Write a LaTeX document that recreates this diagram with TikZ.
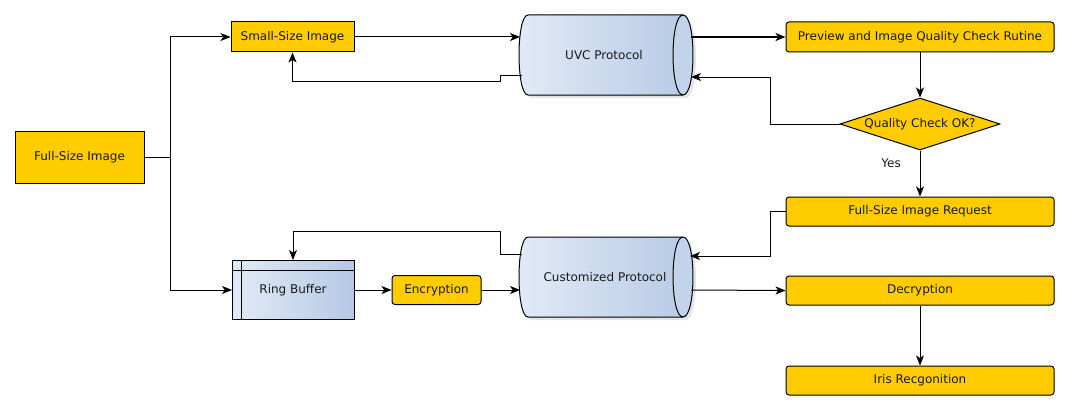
\documentclass[tikz,border=0pt]{standalone}
\usepackage{fontspec}
\setmainfont{DejaVu Sans}
\usetikzlibrary{arrows.meta,shapes.geometric,calc}
\definecolor{boxfill}{HTML}{FFCC00}
\definecolor{cylL}{HTML}{E2EAF6}
\definecolor{cylR}{HTML}{B5C9E5}
\definecolor{cylEnd}{HTML}{C2D3EB}
\definecolor{txt}{HTML}{1A1A1A}
\tikzset{
  px/.style={line width=0.75pt},
  sharpbox/.style={draw=black, px, fill=boxfill, text=txt, inner sep=0pt, font=\fontsize{9}{11}\selectfont},
  roundbox/.style={sharpbox, rounded corners=2.25pt},
  lbl/.style={text=txt, inner sep=0pt, font=\fontsize{9}{11}\selectfont},
  conn/.style={draw=black, px, -{Stealth[length=7.5pt,width=6pt,inset=2pt]}},
  plain/.style={draw=black, px},
}
\begin{document}
\begin{tikzpicture}[x=0.75pt,y=-0.75pt]
\useasboundingbox (0,0) rectangle (1069,410);

% ---- cylinders ----
\foreach \t/\b in {15/95, 237/317}{
  \fill[black, opacity=0.10] (531,\t+3) -- (686,\t+3) .. controls (699.3,\t+3) and (699.3,\b+3) .. (686,\b+3) -- (531,\b+3) .. controls (519,\b+3) and (519,\t+3) .. (531,\t+3) -- cycle;
  \shade[left color=cylL, right color=cylR] (528,\t) -- (683,\t) .. controls (696.3,\t) and (696.3,\b) .. (683,\b) -- (528,\b) .. controls (516,\b) and (516,\t) .. (528,\t) -- cycle;
  \fill[cylEnd] (683,\t) .. controls (696.3,\t) and (696.3,\b) .. (683,\b) .. controls (669.7,\b) and (669.7,\t) .. (683,\t) -- cycle;
  \draw[px] (528,\t) -- (683,\t) .. controls (696.3,\t) and (696.3,\b) .. (683,\b) -- (528,\b) .. controls (516,\b) and (516,\t) .. (528,\t) -- cycle;
  \draw[px] (683,\t) .. controls (669.7,\t) and (669.7,\b) .. (683,\b);
}
\node[lbl] (uvc) at (604,55) {UVC Protocol};
\node[lbl] (cust) at (605,277) {Customized Protocol};

% attachment points on cylinders
\coordinate (uvcIn) at (520,37);
\coordinate (uvcOut) at (691,37);
\coordinate (uvcBack) at (522,75);
\coordinate (uvcRet) at (691,77);
\coordinate (custIn) at (520,290);
\coordinate (custOut) at (691,290);
\coordinate (custBack) at (522,254);
\coordinate (custRet) at (690,256);

% ---- ring buffer ----
\shade[left color=cylL, right color=cylR] (232,260) rectangle (354,319);
\draw[px] (232,260) rectangle (354,319);
\draw[px] (232,270) -- (354,270);
\draw[px] (241,260) -- (241,319);
\node[lbl] (ring) at (293,290) {Ring Buffer};
\coordinate (ringW) at (232,290);
\coordinate (ringE) at (354,290);
\coordinate (ringN) at (293,260);

% ---- boxes ----
\node[sharpbox, minimum width=129*0.75pt, minimum height=52*0.75pt] (full) at (79.5,157) {Full-Size Image};
\node[sharpbox, minimum width=123*0.75pt, minimum height=30*0.75pt] (small) at (292.5,37) {Small-Size Image};
\node[roundbox, minimum width=268*0.75pt, minimum height=30*0.75pt] (prev) at (920,37) {Preview and Image Quality Check Rutine};
\node[diamond, draw=black, px, fill=boxfill, text=txt, inner sep=0pt, aspect=3.1, minimum width=160*0.75pt, minimum height=52*0.75pt] (qc) at (920,124) {};
\node[lbl] at (920,124) {Quality Check OK?};
\node[roundbox, minimum width=268*0.75pt, minimum height=29*0.75pt] (req) at (920,211.5) {Full-Size Image Request};
\node[roundbox, minimum width=89*0.75pt, minimum height=29*0.75pt] (enc) at (436.5,290) {Encryption};
\node[roundbox, minimum width=268*0.75pt, minimum height=29*0.75pt] (dec) at (920,290.5) {Decryption};
\node[roundbox, minimum width=268*0.75pt, minimum height=29*0.75pt] (iris) at (920,380.5) {Iris Recgonition};

% ---- connectors ----
\draw[plain] (full.east) -- (170,157);
\draw[conn] (full.east) -| (170,37) -- (small.west);
\draw[conn] (170,157) |- (ringW);
\draw[conn] (small.east) -- (uvcIn);
\draw[conn, line width=1.5pt] (uvcOut) -- (prev.west);
\draw[conn] (uvcBack) -- (500,75) -- (500,81) -| (small.south);
\draw[conn] (prev.south) -- (qc.north);
\draw[conn] (qc.west) -| (770,77) -- (uvcRet);
\draw[conn] (qc.south) -- node[lbl, pos=0.27, left=14pt] {Yes} (req.north);
\draw[conn] (req.west) -| (770,256) -- (custRet);
\draw[conn] (custBack) -- (500,254) -- (500,231) -| (ringN);
\draw[conn] (ringE) -- (enc.west);
\draw[conn] (enc.east) -- (custIn);
\draw[conn] (custOut) -- (dec.west);
\draw[conn] (dec.south) -- (iris.north);
\end{tikzpicture}
\end{document}
